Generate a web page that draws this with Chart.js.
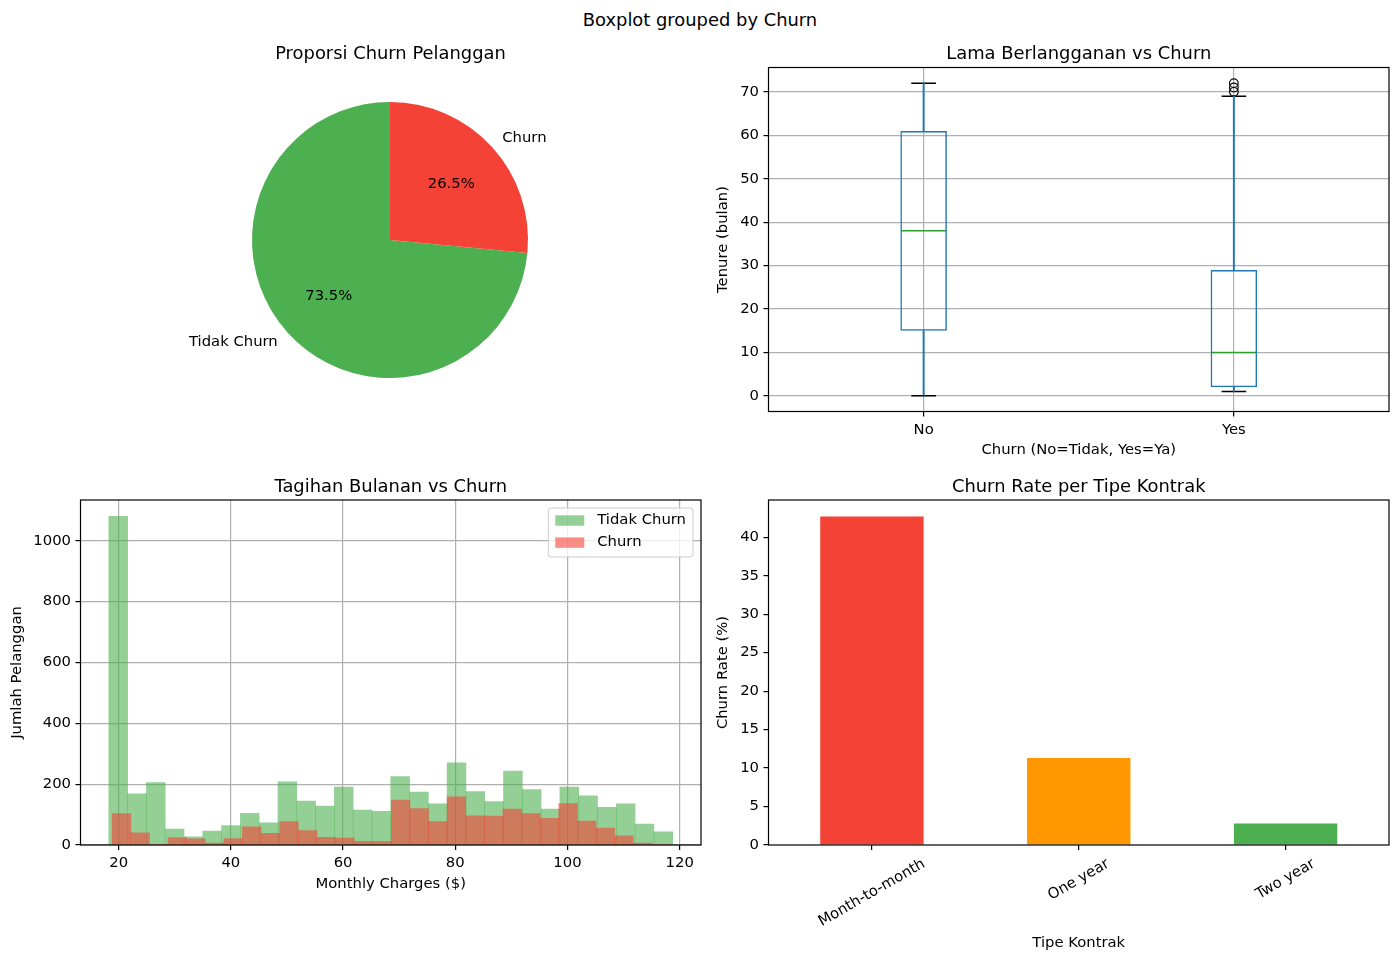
<!DOCTYPE html>
<html lang="id">
<head>
<meta charset="utf-8">
<title>Boxplot grouped by Churn</title>
<script src="https://cdn.jsdelivr.net/npm/chart.js@4.4.1/dist/chart.umd.min.js"></script>
<style>
  html, body { margin: 0; padding: 0; background: #fff; }
  body { position: relative; width: 1400px; height: 961px; overflow: hidden; font-family: 'DejaVu Sans', sans-serif; }
  canvas { position: absolute; }
  .title { position: absolute; width: 600px; text-align: center; font-size: 17.9px; line-height: 1; color: #000; white-space: nowrap; }
</style>
</head>
<body>
<canvas id="pieChart" width="580" height="320" style="left:100px; top:90px"></canvas>
<canvas id="boxChart" width="710" height="420" style="left:690px; top:50px"></canvas>
<canvas id="histChart" width="720" height="430" style="left:0px; top:480px"></canvas>
<canvas id="barChart" width="710" height="481" style="left:690px; top:480px"></canvas>

<div class="title" style="left:400px; top:10.6px">Boxplot grouped by Churn</div>
<div class="title" style="left:90.5px; top:44.2px">Proporsi Churn Pelanggan</div>
<div class="title" style="left:778.75px; top:44.2px">Lama Berlangganan vs Churn</div>
<div class="title" style="left:90.75px; top:476.7px">Tagihan Bulanan vs Churn</div>
<div class="title" style="left:778.75px; top:476.7px">Churn Rate per Tipe Kontrak</div>

<script>
// --- data ---
const pieLabels = ['Tidak Churn', 'Churn'];
const pieShares = [73.5, 26.5];
const pieColors = ['#4CAF50', '#F44336'];

const boxGroups = ['No', 'Yes'];
const boxMin = [0, 1];
const boxQ1 = [15, 2];
const boxMedian = [38, 10];
const boxQ3 = [61, 29];
const boxMax = [72, 69];
const boxOutliersYes = [70, 71, 72];
const boxYTicks = [0, 10, 20, 30, 40, 50, 60, 70];

// histogram: 30 bins over each group's own range
const histRangeTidak = [18.25, 118.75];
const histRangeChurn = [18.85, 118.35];
const histTidak = [1080, 168, 205, 52, 27, 46, 64, 104, 73, 208,
                   144, 128, 190, 115, 111, 225, 174, 135, 270, 176,
                   143, 243, 182, 118, 190, 162, 124, 135, 69, 43];
const histChurn = [103, 40, 2, 24, 20, 6, 21, 60, 38, 77,
                   47, 25, 23, 12, 12, 148, 120, 77, 158, 96,
                   95, 118, 103, 88, 136, 79, 56, 30, 6, 2];
const histXTicks = [20, 40, 60, 80, 100, 120];
const histYTicks = [0, 200, 400, 600, 800, 1000];

const contractTypes = ['Month-to-month', 'One year', 'Two year'];
const contractChurnRate = [42.7, 11.3, 2.8];
const contractColors = ['#F44336', '#FF9800', '#4CAF50'];
const barYTicks = [0, 5, 10, 15, 20, 25, 30, 35, 40];

// --- common look (matplotlib-like) ---
const tickFont = 14.8;
const fontFamily = "'DejaVu Sans', sans-serif";
const gridColor = '#b0b0b0';
const boxBlue = '#1f77b4';
const medianGreen = '#2ca02c';

Chart.defaults.font.family = fontFamily;
Chart.defaults.font.size = tickFont;
Chart.defaults.color = '#000';
Chart.defaults.animation = false;
Chart.defaults.events = [];
Chart.defaults.plugins.legend.display = false;
Chart.defaults.plugins.tooltip.enabled = false;

function binCenters(range, n) {
    const w = (range[1] - range[0]) / n;
    const out = [];
    for (let i = 0; i < n; i++) out.push(range[0] + (i + 0.5) * w);
    return out;
}

function gridOpts(onArea) {
    return {
        display: true,
        drawOnChartArea: onArea,
        offset: false,
        color: gridColor,
        lineWidth: 1.2,
        tickLength: 5,
        tickColor: '#000',
        tickWidth: 1.2
    };
}

function valueAxis(min, max, ticks, width, text, titlePad, showGrid) {
    return {
        min: min,
        max: max,
        afterBuildTicks: s => { s.ticks = ticks.map(v => ({ value: v })); },
        afterFit: s => { s.width = width; },
        border: { display: false },
        grid: gridOpts(showGrid),
        ticks: { padding: 4.5, callback: v => String(v) },
        title: { display: true, text: text, font: { size: tickFont, lineHeight: 1.2 }, padding: { top: titlePad, bottom: 0 } }
    };
}

// black frame round the plot area (all four spines)
const framePlugin = {
    id: 'frame',
    afterDatasetsDraw(chart) {
        const { ctx, chartArea: a } = chart;
        ctx.save();
        ctx.strokeStyle = '#000';
        ctx.lineWidth = 1.2;
        ctx.strokeRect(a.left, a.top, a.right - a.left, a.bottom - a.top);
        ctx.restore();
    }
};

// pie labels outside (1.1 r) and percentages inside (0.6 r)
const pieLabelPlugin = {
    id: 'pieLabels',
    afterDatasetsDraw(chart) {
        const ctx = chart.ctx;
        const meta = chart.getDatasetMeta(0);
        ctx.save();
        ctx.font = tickFont + 'px ' + fontFamily;
        ctx.fillStyle = '#000';
        ctx.textBaseline = 'middle';
        meta.data.forEach((arc, i) => {
            const p = arc.getProps(['x', 'y', 'startAngle', 'endAngle', 'outerRadius'], true);
            const mid = (p.startAngle + p.endAngle) / 2;
            const c = Math.cos(mid), s = Math.sin(mid);
            ctx.textAlign = c >= 0 ? 'left' : 'right';
            ctx.fillText(chart.data.labels[i], p.x + c * p.outerRadius * 1.1, p.y + s * p.outerRadius * 1.1);
            const pct = (p.endAngle - p.startAngle) / (2 * Math.PI) * 100;
            ctx.textAlign = 'center';
            ctx.fillText(pct.toFixed(1) + '%', p.x + c * p.outerRadius * 0.6, p.y + s * p.outerRadius * 0.6);
        });
        ctx.restore();
    }
};

// legend box in the upper right of the histogram
const histLegendPlugin = {
    id: 'histLegend',
    afterDraw(chart) {
        const { ctx, chartArea } = chart;
        const items = chart.data.datasets;
        ctx.save();
        ctx.font = tickFont + 'px ' + fontFamily;
        const textW = Math.max(...items.map(d => ctx.measureText(d.label).width));
        const boxW = 49 + textW + 7;
        const boxH = 49;
        const left = chartArea.right - 8 - boxW;
        const top = chartArea.top + 8;
        ctx.beginPath();
        ctx.roundRect(left, top, boxW, boxH, 3);
        ctx.fillStyle = 'rgba(255,255,255,0.8)';
        ctx.fill();
        ctx.strokeStyle = '#cccccc';
        ctx.lineWidth = 1;
        ctx.stroke();
        items.forEach((d, i) => {
            const cy = top + 12.5 + i * 22.1;
            ctx.fillStyle = d.backgroundColor;
            ctx.fillRect(left + 7, cy - 5.2, 29, 10.4);
            ctx.fillStyle = '#000';
            ctx.textAlign = 'left';
            ctx.textBaseline = 'middle';
            ctx.fillText(d.label, left + 49, cy);
        });
        ctx.restore();
    }
};

// category labels rotated 30 degrees, centred under their ticks
const rotatedTicksPlugin = {
    id: 'rotatedTicks',
    afterDraw(chart) {
        const ctx = chart.ctx;
        const xs = chart.scales.x;
        const ang = 30 * Math.PI / 180;
        ctx.save();
        ctx.font = tickFont + 'px ' + fontFamily;
        ctx.fillStyle = '#000';
        ctx.textAlign = 'center';
        ctx.textBaseline = 'middle';
        chart.data.labels.forEach((lab, i) => {
            const px = xs.getPixelForTick(i);
            const w = ctx.measureText(lab).width;
            const h = tickFont * 1.164;
            const bh = w * Math.sin(ang) + h * Math.cos(ang);
            const cy = chart.chartArea.bottom + 10.4 + bh / 2;
            ctx.save();
            ctx.translate(px, cy);
            ctx.rotate(-ang);
            ctx.fillText(lab, 0, 0);
            ctx.restore();
        });
        ctx.restore();
    }
};

// --- pie ---
new Chart(document.getElementById('pieChart'), {
    type: 'pie',
    data: {
        labels: pieLabels,
        datasets: [{ data: pieShares, backgroundColor: pieColors, borderWidth: 0 }]
    },
    options: {
        responsive: false,
        rotation: 360 * pieShares[1] / (pieShares[0] + pieShares[1]),
        layout: { padding: { left: 152, right: 152, top: 12, bottom: 32 } }
    },
    plugins: [pieLabelPlugin]
});

// --- boxplot ---
new Chart(document.getElementById('boxChart'), {
    type: 'bar',
    data: {
        labels: boxGroups,
        datasets: [
            {
                label: 'box',
                data: boxGroups.map((g, i) => [boxQ1[i], boxQ3[i]]),
                backgroundColor: 'rgba(0,0,0,0)',
                borderColor: boxBlue,
                borderWidth: 1.5,
                borderSkipped: false,
                barPercentage: 0.15,
                categoryPercentage: 1,
                grouped: false
            },
            {
                label: 'lower whisker',
                data: boxGroups.map((g, i) => [boxMin[i], boxQ1[i]]),
                backgroundColor: boxBlue,
                barThickness: 1.3,
                grouped: false
            },
            {
                label: 'upper whisker',
                data: boxGroups.map((g, i) => [boxQ3[i], boxMax[i]]),
                backgroundColor: boxBlue,
                barThickness: 1.3,
                grouped: false
            },
            {
                type: 'line', label: 'min cap', data: boxMin, showLine: false,
                pointStyle: 'line', pointRadius: 12.3, pointBorderColor: '#000', pointBorderWidth: 1.5
            },
            {
                type: 'line', label: 'max cap', data: boxMax, showLine: false,
                pointStyle: 'line', pointRadius: 12.3, pointBorderColor: '#000', pointBorderWidth: 1.5
            },
            {
                type: 'line', label: 'median', data: boxMedian, showLine: false,
                pointStyle: 'line', pointRadius: 22.5, pointBorderColor: medianGreen, pointBorderWidth: 1.5
            },
            {
                type: 'line', label: 'outliers',
                data: boxOutliersYes.map(v => ({ x: 'Yes', y: v })),
                showLine: false, pointStyle: 'circle', pointRadius: 4.3,
                pointBackgroundColor: 'rgba(0,0,0,0)', pointBorderColor: '#000', pointBorderWidth: 1.2
            }
        ]
    },
    options: {
        responsive: false,
        layout: { autoPadding: false, padding: { left: 0, top: 17.5, right: 11, bottom: 0 } },
        scales: {
            x: {
                offset: true,
                afterFit: s => { s.height = 58.5; },
                border: { display: false },
                grid: gridOpts(true),
                ticks: { padding: 4.5 },
                title: { display: true, text: 'Churn (No=Tidak, Yes=Ya)', font: { size: tickFont, lineHeight: 1.2 }, padding: { top: 0, bottom: 10.5 } }
            },
            y: valueAxis(-3.6, 75.6, boxYTicks, 78.5, 'Tenure (bulan)', 24.4, true)
        }
    },
    plugins: [framePlugin]
});

// --- histogram ---
const tidakX = binCenters(histRangeTidak, histTidak.length);
const churnX = binCenters(histRangeChurn, histChurn.length);

new Chart(document.getElementById('histChart'), {
    type: 'bar',
    data: {
        datasets: [
            {
                label: 'Tidak Churn',
                data: histTidak.map((v, i) => ({ x: tidakX[i], y: v })),
                backgroundColor: 'rgba(76,175,80,0.6)',
                borderWidth: 0,
                barPercentage: 1,
                categoryPercentage: 1,
                grouped: false,
                xAxisID: 'x',
                order: 1
            },
            {
                label: 'Churn',
                data: histChurn.map((v, i) => ({ x: churnX[i], y: v })),
                backgroundColor: 'rgba(244,67,54,0.6)',
                borderWidth: 0,
                barPercentage: 1,
                categoryPercentage: 1,
                grouped: false,
                xAxisID: 'x2',
                order: 0
            }
        ]
    },
    options: {
        responsive: false,
        layout: { padding: { left: 0, top: 20, right: 19, bottom: 0 } },
        scales: {
            x: {
                type: 'linear',
                min: 13.2,
                max: 123.8,
                offset: false,
                afterBuildTicks: s => { s.ticks = histXTicks.map(v => ({ value: v })); },
                afterFit: s => { s.height = 65; },
                border: { display: false },
                grid: gridOpts(true),
                ticks: { padding: 4.5, callback: v => String(v) },
                title: { display: true, text: 'Monthly Charges ($)', font: { size: tickFont, lineHeight: 1.2 }, padding: { top: 0, bottom: 17 } }
            },
            x2: {
                type: 'linear',
                display: false,
                min: 13.2,
                max: 123.8,
                offset: false
            },
            y: valueAxis(0, 1134, histYTicks, 80.5, 'Jumlah Pelanggan', 8.1, true)
        }
    },
    plugins: [framePlugin, histLegendPlugin]
});

// --- churn rate per contract ---
new Chart(document.getElementById('barChart'), {
    type: 'bar',
    data: {
        labels: contractTypes,
        datasets: [{
            label: 'Churn Rate (%)',
            data: contractChurnRate,
            backgroundColor: contractColors,
            borderWidth: 0,
            barPercentage: 0.5,
            categoryPercentage: 1
        }]
    },
    options: {
        responsive: false,
        layout: { padding: { left: 0, top: 20, right: 11, bottom: 0 } },
        scales: {
            x: {
                offset: true,
                afterFit: s => { s.height = 116; },
                border: { display: false },
                grid: gridOpts(false),
                ticks: { display: false },
                title: { display: true, text: 'Tipe Kontrak', font: { size: tickFont, lineHeight: 1.2 }, padding: { top: 0, bottom: 9.4 } }
            },
            y: valueAxis(0, 44.835, barYTicks, 78.5, 'Churn Rate (%)', 24.4, false)
        }
    },
    plugins: [framePlugin, rotatedTicksPlugin]
});
</script>
</body>
</html>
